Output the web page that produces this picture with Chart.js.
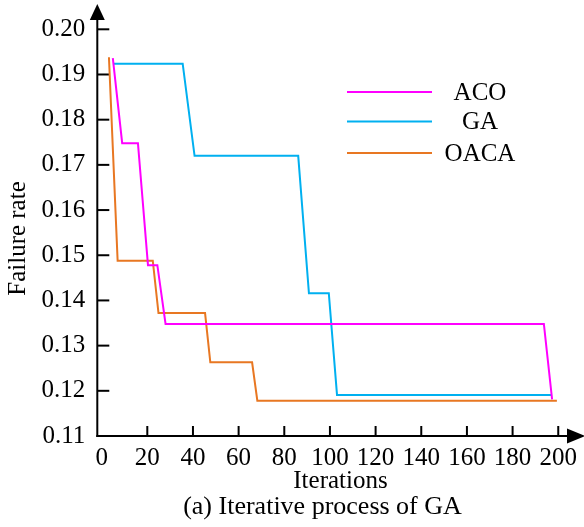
<!DOCTYPE html>
<html><head><meta charset="utf-8">
<script src="https://cdn.jsdelivr.net/npm/chart.js@4.4.1/dist/chart.umd.min.js"></script>
<style>html,body{margin:0;padding:0;background:#fff;}canvas{display:block;}</style>
</head><body>
<canvas id="c" width="584" height="527"></canvas>
<script>
const seriesNames = ['ACO', 'GA', 'OACA'];
const acoX = [4.9, 9.0, 15.9, 20.3, 24.4, 28.0, 193.7, 197.3];
const acoY = [0.1936, 0.1748, 0.1748, 0.1478, 0.1478, 0.1348, 0.1348, 0.1181];
const gaX = [5.4, 35.5, 40.7, 86.1, 90.8, 99.5, 103.1, 197.0];
const gaY = [0.1924, 0.1924, 0.1720, 0.1720, 0.1416, 0.1416, 0.1191, 0.1191];
const oacaX = [3.2, 7.0, 22.4, 24.9, 45.3, 47.6, 65.9, 68.2, 199.4];
const oacaY = [0.1938, 0.1488, 0.1488, 0.1372, 0.1372, 0.1263, 0.1263, 0.1178, 0.1178];
const xTicks = [0, 20, 40, 60, 80, 100, 120, 140, 160, 180, 200];
const yTicks = [0.11, 0.12, 0.13, 0.14, 0.15, 0.16, 0.17, 0.18, 0.19, 0.20];
const xTitle = 'Iterations';
const yTitle = 'Failure rate';
const caption = '(a) Iterative process of GA';

const colors = ['#FF00FF', '#00B0F0', '#E87722'];
const FONT = '"Liberation Serif", "Times New Roman", serif';
const pts = (xs, ys) => xs.map((v, i) => ({x: v, y: ys[i]}));

const axesPlugin = {
  id: 'axesArrows',
  beforeDatasetsDraw(chart) {
    const {ctx, scales: {x, y}} = chart;
    const x0 = x.left, y0 = y.bottom;
    ctx.save();
    ctx.strokeStyle = '#000'; ctx.fillStyle = '#000'; ctx.lineWidth = 2;
    ctx.beginPath(); ctx.moveTo(x0, y0 + 1); ctx.lineTo(x0, 16); ctx.stroke();
    ctx.beginPath(); ctx.moveTo(x0, 4); ctx.lineTo(x0 - 7.5, 20); ctx.lineTo(x0 + 7.5, 20); ctx.closePath(); ctx.fill();
    ctx.beginPath(); ctx.moveTo(x0 - 1, y0); ctx.lineTo(572, y0); ctx.stroke();
    ctx.beginPath(); ctx.moveTo(585, y0); ctx.lineTo(567, y0 - 7.5); ctx.lineTo(567, y0 + 7.5); ctx.closePath(); ctx.fill();
    yTicks.forEach(v => {
      if (v <= yTicks[0]) return;
      const py = y.getPixelForValue(v);
      ctx.beginPath(); ctx.moveTo(x0, py); ctx.lineTo(x0 + 12, py); ctx.stroke();
    });
    xTicks.forEach(v => {
      if (v === 0) return;
      const px = x.getPixelForValue(v);
      ctx.beginPath(); ctx.moveTo(px, y0); ctx.lineTo(px, y0 - 10); ctx.stroke();
    });
    ctx.restore();
  },
  afterDraw(chart) {
    const {ctx} = chart;
    ctx.save();
    ctx.fillStyle = '#000';
    ctx.textAlign = 'center'; ctx.textBaseline = 'middle';
    ctx.font = '25px ' + FONT;
    ctx.fillText(xTitle, 340.5, 481);
    ctx.font = '26px ' + FONT;
    ctx.fillText(caption, 322.5, 507);
    ctx.translate(18.5, 238.5);
    ctx.rotate(-Math.PI / 2);
    ctx.font = '25px ' + FONT;
    ctx.fillText(yTitle, 0, 0);
    ctx.restore();
  }
};

const legendPlugin = {
  id: 'customLegend',
  afterDatasetsDraw(chart) {
    const {ctx} = chart;
    const rows = [92, 121.5, 153];
    ctx.save();
    ctx.font = '25px ' + FONT;
    ctx.textAlign = 'center'; ctx.textBaseline = 'middle';
    chart.data.datasets.forEach((ds, i) => {
      const ry = rows[i];
      ctx.strokeStyle = ds.borderColor; ctx.lineWidth = 2;
      ctx.beginPath(); ctx.moveTo(347, ry); ctx.lineTo(432, ry); ctx.stroke();
      ctx.fillStyle = '#000';
      ctx.fillText(ds.label, 480, ry + 1);
    });
    ctx.restore();
  }
};

Chart.defaults.color = '#000';
Chart.defaults.font.family = FONT;

new Chart(document.getElementById('c'), {
  type: 'line',
  data: {
    datasets: [
      {label: seriesNames[0], data: pts(acoX, acoY), borderColor: colors[0]},
      {label: seriesNames[1], data: pts(gaX, gaY), borderColor: colors[1]},
      {label: seriesNames[2], data: pts(oacaX, oacaY), borderColor: colors[2]}
    ].map(d => Object.assign(d, {borderWidth: 2, pointRadius: 0, fill: false, tension: 0, clip: false}))
  },
  options: {
    responsive: false,
    animation: false,
    devicePixelRatio: 1,
    layout: {padding: {left: 0, right: 21.7, top: 29.3, bottom: 0}},
    plugins: {
      legend: {display: false},
      tooltip: {enabled: false},
      title: {display: false}
    },
    scales: {
      x: {
        type: 'linear', min: -1.9, max: 200,
        afterBuildTicks: s => { s.ticks = xTicks.map(v => ({value: v})); },
        afterFit: s => { s.height = 91; },
        grid: {display: false, drawTicks: false},
        border: {display: false},
        ticks: {font: {size: 25, family: FONT}, padding: 7, maxRotation: 0, autoSkip: false, callback: v => String(v)},
        title: {display: false}
      },
      y: {
        type: 'linear', min: 0.11, max: 0.20,
        afterBuildTicks: s => { s.ticks = yTicks.map(v => ({value: v})); },
        afterFit: s => { s.width = 97.3; },
        grid: {display: false, drawTicks: false},
        border: {display: false},
        ticks: {font: {size: 25, family: FONT}, padding: 12, autoSkip: false, callback: v => Number(v).toFixed(2)},
        title: {display: false}
      }
    }
  },
  plugins: [axesPlugin, legendPlugin]
});
</script>
</body></html>
